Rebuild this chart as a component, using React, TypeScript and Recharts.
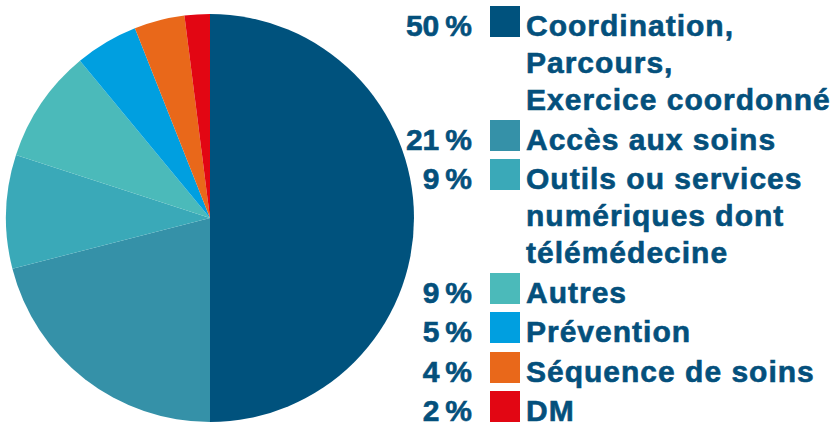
import { PieChart, Pie, Cell, Legend } from "recharts";

const labels = [
  ["Coordination,", "Parcours,", "Exercice coordonné"],
  ["Accès aux soins"],
  ["Outils ou services", "numériques dont", "télémédecine"],
  ["Autres"],
  ["Prévention"],
  ["Séquence de soins"],
  ["DM"],
];
const shares = [50, 21, 9, 9, 5, 4, 2];
const colors = ["#00527d", "#3591a8", "#3aa9b8", "#4bbaba", "#009fe0", "#e9681a", "#e20613"];

const textColor = "#04507c";
const font = "'Liberation Sans', Arial, Helvetica, sans-serif";

const data = shares.map((v, i) => ({ name: labels[i].join(" "), value: v }));

function LegendBlock() {
  let top = 6;
  const rows = labels.map((lines, i) => {
    const rowTop = top;
    top += 39.5 + 37 * (lines.length - 1);
    return (
      <div key={i} style={{ position: "absolute", top: rowTop, left: 0 }}>
        <div
          style={{
            position: "absolute",
            left: 380,
            width: 92,
            top: 1,
            textAlign: "right",
            lineHeight: "37px",
            whiteSpace: "nowrap",
          }}
        >
          {shares[i]}
          {"\u202F%"}
        </div>
        <div
          style={{
            position: "absolute",
            left: 490,
            top: 0,
            width: 30,
            height: 31,
            background: colors[i],
          }}
        />
        <div
          style={{
            position: "absolute",
            left: 526,
            top: 1,
            lineHeight: "37px",
            whiteSpace: "nowrap",
          }}
        >
          {lines.map((l, j) => (
            <div key={j}>{l}</div>
          ))}
        </div>
      </div>
    );
  });
  return (
    <div
      style={{
        position: "relative",
        width: 837,
        height: 430,
        fontFamily: font,
        fontWeight: "bold",
        fontSize: 30,
        letterSpacing: 1,
        color: textColor,
        WebkitTextStroke: `0.6px ${textColor}`,
        textAlign: "left",
      }}
    >
      {rows}
    </div>
  );
}

export default function App() {
  return (
    <div style={{ position: "absolute", left: 0, top: 0, width: 837, height: 430, background: "#fff" }}>
      <PieChart width={837} height={430} margin={{ top: 0, right: 0, bottom: 0, left: 0 }}>
        <Pie
          data={data}
          dataKey="value"
          nameKey="name"
          cx={210}
          cy={218}
          outerRadius={204}
          startAngle={90}
          endAngle={-270}
          stroke="none"
          isAnimationActive={false}
        >
          {data.map((d, i) => (
            <Cell key={d.name} fill={colors[i]} />
          ))}
        </Pie>
        <Legend
          content={() => <LegendBlock />}
          wrapperStyle={{ position: "absolute", left: 0, top: 0, width: 837, height: 430 }}
        />
      </PieChart>
    </div>
  );
}
